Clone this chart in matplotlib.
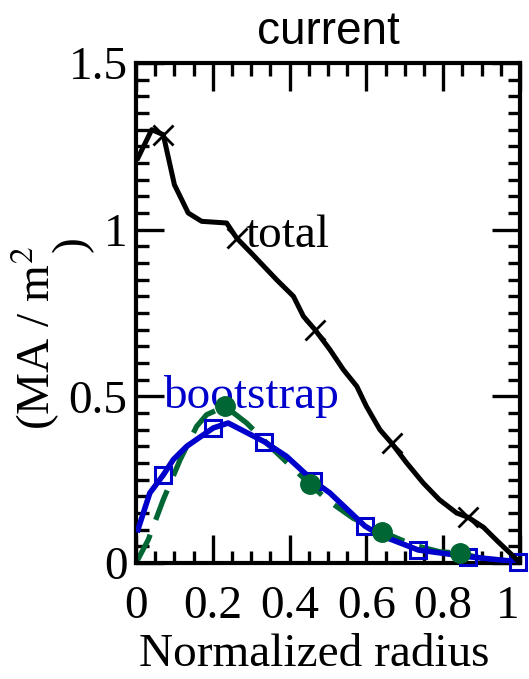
import numpy as np
import matplotlib
matplotlib.use('Agg')
from matplotlib import pyplot as plt
from matplotlib.ticker import MultipleLocator

# total current (black)
r_total = [0.005, 0.041, 0.071, 0.10, 0.136, 0.171, 0.236, 0.262, 0.30, 0.366,
           0.41, 0.436, 0.466, 0.505, 0.54, 0.575, 0.60, 0.635, 0.666, 0.705,
           0.748, 0.79, 0.835, 0.865, 0.905, 0.94, 0.983, 1.0]
j_total = [1.215, 1.30, 1.285, 1.135, 1.05, 1.025, 1.02, 0.975, 0.93, 0.85,
           0.80, 0.74, 0.70, 0.64, 0.58, 0.53, 0.47, 0.40, 0.359, 0.30,
           0.24, 0.19, 0.15, 0.137, 0.107, 0.067, 0.02, 0.0]
r_total_mk = [0.071, 0.262, 0.466, 0.666, 0.865]
j_total_mk = [1.285, 0.975, 0.70, 0.359, 0.137]

# bootstrap (blue)
r_boot = [0.005, 0.036, 0.071, 0.097, 0.132, 0.201, 0.24, 0.334, 0.392, 0.462,
          0.505, 0.596, 0.635, 0.735, 0.865, 1.0]
j_boot = [0.10, 0.21, 0.264, 0.31, 0.35, 0.405, 0.42, 0.364, 0.32, 0.246,
          0.21, 0.111, 0.084, 0.039, 0.019, 0.003]
r_boot_mk = [0.071, 0.201, 0.334, 0.462, 0.596, 0.735, 0.865, 0.996]
j_boot_mk = [0.264, 0.405, 0.364, 0.246, 0.111, 0.039, 0.019, 0.004]

# second bootstrap model (green dashed)
r_green = [0.0, 0.032, 0.071, 0.115, 0.158, 0.184, 0.232, 0.288, 0.358, 0.40,
           0.453, 0.497, 0.566, 0.64, 0.722, 0.79, 0.844, 0.94, 1.0]
j_green = [0.0, 0.07, 0.19, 0.31, 0.41, 0.445, 0.47, 0.42, 0.34, 0.294,
           0.237, 0.19, 0.134, 0.094, 0.054, 0.034, 0.029, 0.004, 0.0]
r_green_mk = [0.232, 0.453, 0.64, 0.844]
j_green_mk = [0.47, 0.237, 0.094, 0.029]

xtick_labels = ['0', '0.2', '0.4', '0.6', '0.8', '1']
ytick_labels = ['0', '0.5', '1', '1.5']

serif = 'Liberation Serif'
blue = '#0000CC'
green = '#006633'
fs = 34

fig = plt.figure(figsize=(5.29, 6.79), dpi=100)
ax = fig.add_axes([136 / 529, 116 / 679, 384 / 529, 500 / 679])

ax.plot(r_green, j_green, color=green, lw=3.8, dashes=(6, 3), zorder=2)
ax.plot(r_boot, j_boot, color=blue, lw=4, zorder=3)
ax.plot(r_boot_mk, j_boot_mk, ls='none', marker='s', ms=12, mfc='none',
        mec=blue, mew=2.2, clip_on=False, zorder=4)
ax.plot(r_green_mk, j_green_mk, ls='none', marker='o', ms=14, color=green,
        clip_on=False, zorder=5)
ax.plot(r_total, j_total, color='black', lw=3.6, zorder=6)
ax.plot(r_total_mk, j_total_mk, ls='none', marker='x', ms=14, mew=2,
        color='black', zorder=6)

ax.text(0.284, 0.949, 'total', fontsize=fs, family=serif, color='black',
        ha='left', va='baseline')
ax.text(0.07, 0.465, 'bootstrap', fontsize=fs, family=serif, color=blue,
        ha='left', va='baseline')

ax.set_xlim(0, 1)
ax.set_ylim(0, 1.5)
ax.set_xticks([0, 0.2, 0.4, 0.6, 0.8, 1.0])
ax.set_xticklabels(xtick_labels, family=serif, fontsize=fs)
ax.set_yticks([0, 0.5, 1.0, 1.5])
ax.set_yticklabels(ytick_labels, family=serif, fontsize=fs)
ax.xaxis.set_minor_locator(MultipleLocator(0.05))
ax.yaxis.set_minor_locator(MultipleLocator(0.05))
ax.get_xticklabels()[-1].set_ha('right')

ax.tick_params(which='both', direction='in', top=True, right=True)
ax.tick_params(which='major', length=20, width=2.4)
ax.tick_params(axis='x', which='major', pad=16)
ax.tick_params(axis='y', which='major', pad=6)
ax.tick_params(which='minor', length=9, width=2.4)
for sp in ax.spines.values():
    sp.set_linewidth(3)

ax.set_xlabel('Normalized radius', fontsize=fs, family=serif)
ax.xaxis.set_label_coords(0.4635, -0.142)
ax.set_title('current', fontsize=33, family='Liberation Sans', pad=14)

# y label, drawn in two pieces as in the original
fig.text(35 / 529, 1 - 430 / 679, '(MA / m$^{2}$', rotation=90, fontsize=fs,
         family=serif, math_fontfamily='stix', ha='center', va='bottom')
fig.text(72 / 529, 1 - 252 / 679, ')', rotation=90, fontsize=fs,
         family=serif, ha='center', va='bottom')

fig.savefig('out.png', dpi=100)
